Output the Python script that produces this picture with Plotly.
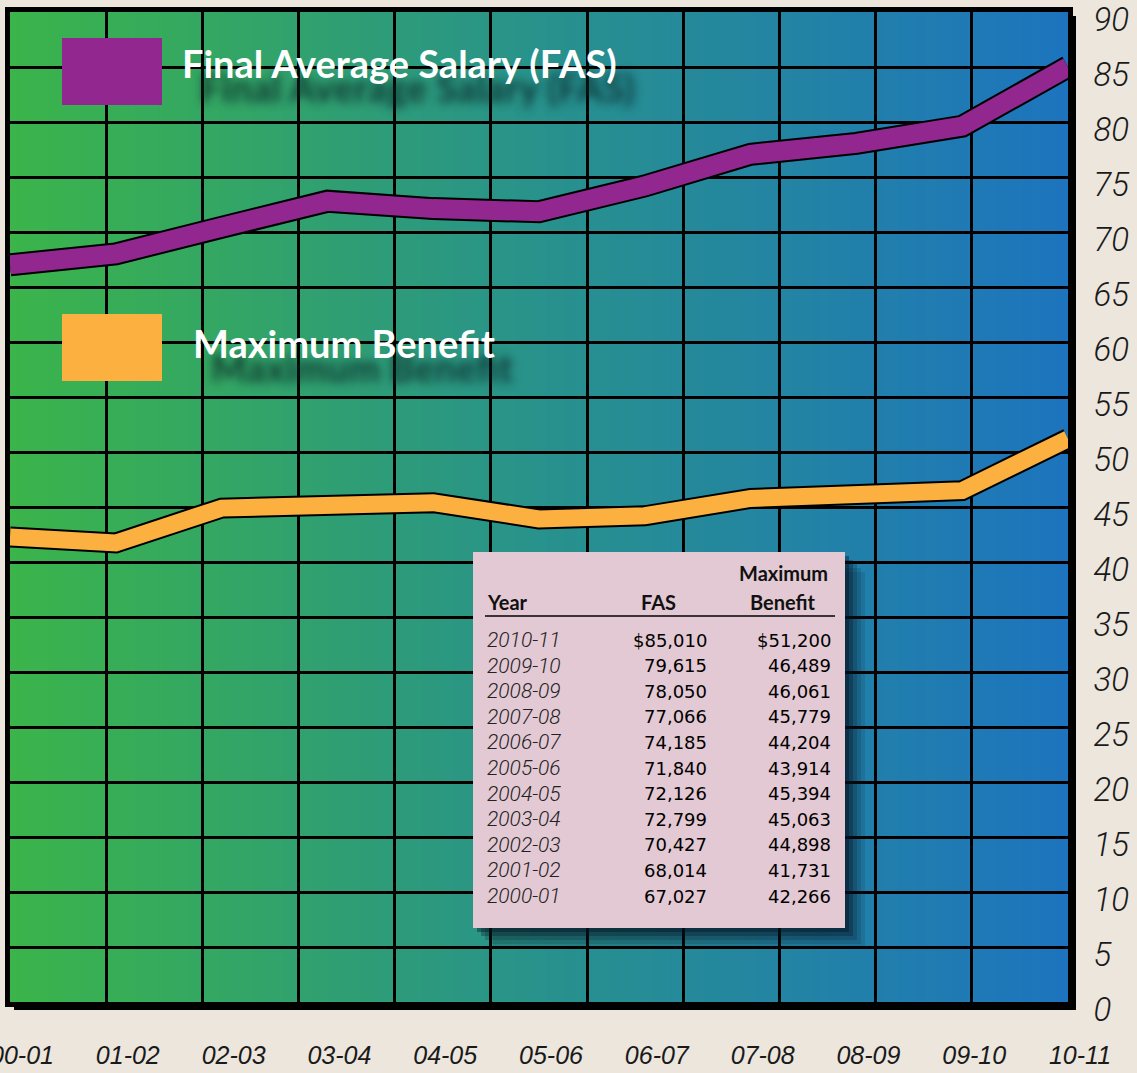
import base64
import struct
import zlib
import plotly.graph_objects as go

# values in thousands of dollars
years = ["00-01", "01-02", "02-03", "03-04", "04-05", "05-06",
         "06-07", "07-08", "08-09", "09-10", "10-11"]
fas = [67.027, 68.014, 70.427, 72.799, 72.126, 71.840,
       74.185, 77.066, 78.050, 79.615, 85.010]
max_benefit = [42.266, 41.731, 44.898, 45.063, 45.394, 43.914,
               44.204, 45.779, 46.061, 46.489, 51.200]

# inset table (newest first, as printed)
table_years = ["2010-11", "2009-10", "2008-09", "2007-08", "2006-07", "2005-06",
               "2004-05", "2003-04", "2002-03", "2001-02", "2000-01"]
table_fas = ["$85,010", "79,615", "78,050", "77,066", "74,185", "71,840",
             "72,126", "72,799", "70,427", "68,014", "67,027"]
table_benefit = ["$51,200", "46,489", "46,061", "45,779", "44,204", "43,914",
                 "45,394", "45,063", "44,898", "41,731", "42,266"]

W, H = 1137, 1073
L, R, T, B = 10, 69, 12, 71
PW, PH = W - L - R, H - T - B


def xp(px):
    return (px - L) / PW


def yp(py):
    return (H - B - py) / PH


def gradient_png(stops, width=512):
    # one-row horizontal gradient, encoded as a tiny png
    row = b"\x00"
    for i in range(width):
        t = i / (width - 1)
        for k in range(len(stops) - 1):
            t0, c0 = stops[k]
            t1, c1 = stops[k + 1]
            if t0 <= t <= t1:
                f = (t - t0) / (t1 - t0)
                row += bytes(int(round(c0[j] + (c1[j] - c0[j]) * f)) for j in range(3))
                break
    raw = row * 2

    def chunk(tag, data):
        c = struct.pack(">I", len(data)) + tag + data
        return c + struct.pack(">I", zlib.crc32(tag + data) & 0xffffffff)

    png = b"\x89PNG\r\n\x1a\n"
    png += chunk(b"IHDR", struct.pack(">IIBBBBB", width, 2, 8, 2, 0, 0, 0))
    png += chunk(b"IDAT", zlib.compress(raw))
    png += chunk(b"IEND", b"")
    return "data:image/png;base64," + base64.b64encode(png).decode()


bg = gradient_png([(0.0, (59, 180, 74)), (0.5, (40, 146, 140)), (1.0, (29, 116, 190))])

fig = go.Figure()
x = list(range(len(years)))

for vals, col, w in [(fas, "#92278F", 19), (max_benefit, "#FBB040", 17)]:
    fig.add_trace(go.Scatter(x=x, y=vals, mode="lines", hoverinfo="skip",
                             line=dict(color="black", width=w + 4), showlegend=False))
    fig.add_trace(go.Scatter(x=x, y=vals, mode="lines", name="",
                             line=dict(color=col, width=w), showlegend=False))

fig.add_layout_image(dict(source=bg, xref="paper", yref="paper", x=0, y=1,
                          sizex=1, sizey=1, sizing="stretch",
                          xanchor="left", yanchor="top", layer="below"))

light_italic = "Roboto, DejaVu Sans"
fig.update_xaxes(range=[0, 10], tickvals=x, ticktext=years,
                 showgrid=False, zeroline=False, automargin=False,
                 minor=dict(tick0=0, dtick=10 / 11, showgrid=True,
                            gridcolor="black", gridwidth=3),
                 showline=True, mirror=True, linecolor="black", linewidth=5,
                 ticks="", ticklabelshift=12, ticklabelstandoff=27,
                 ticklabeloverflow="allow",
                 tickfont=dict(family="Liberation Sans Narrow, Liberation Sans", size=25,
                               style="italic", color="#1a1a1a"))
fig.update_yaxes(range=[0, 90], dtick=5, side="right",
                 showgrid=True, gridcolor="black", gridwidth=3, zeroline=False,
                 automargin=False,
                 showline=True, mirror=True, linecolor="black", linewidth=5,
                 ticks="", ticklabelshift=7, ticklabelstandoff=14,
                 ticklabeloverflow="allow",
                 tickfont=dict(family=light_italic, size=33, weight=300,
                               style="italic", color="#1a1a1a"))

shapes = [
    # drop shadow of the frame
    dict(type="rect", xref="paper", yref="paper", x0=xp(1068), x1=xp(1076),
         y0=yp(1010), y1=yp(16), fillcolor="black", line_width=0),
    dict(type="rect", xref="paper", yref="paper", x0=xp(14), x1=xp(1076),
         y0=yp(1010), y1=yp(1002), fillcolor="black", line_width=0),
    # legend swatches
    dict(type="rect", xref="paper", yref="paper", x0=xp(62), x1=xp(162),
         y0=yp(105), y1=yp(38), fillcolor="#92278F", line_width=0),
    dict(type="rect", xref="paper", yref="paper", x0=xp(62), x1=xp(162),
         y0=yp(381), y1=yp(314), fillcolor="#FBB040", line_width=0),
]
# soft shadow under the table
for k, op in [(20, 0.12), (16, 0.15), (12, 0.2), (8, 0.3), (4, 0.4)]:
    shapes.append(dict(type="rect", xref="paper", yref="paper",
                       x0=xp(473 + k), x1=xp(845 + k), y0=yp(928 + k), y1=yp(552 + k),
                       fillcolor="rgba(5,20,35,%s)" % op, line_width=0))
shapes.append(dict(type="rect", xref="paper", yref="paper", x0=xp(473), x1=xp(845),
                   y0=yp(928), y1=yp(552), fillcolor="#E3C9D3", line_width=0))
shapes.append(dict(type="line", xref="paper", yref="paper", x0=xp(485), x1=xp(835),
                   y0=yp(616), y1=yp(616), line=dict(color="black", width=1.5)))
fig.update_layout(shapes=shapes)

shadow = "18px 24px 10px rgba(10,40,40,0.85)"
legend_font = dict(family="Lato", size=38, weight="bold", color="white", shadow=shadow)
fig.add_annotation(text="Final Average Salary (FAS)", xref="paper", yref="paper",
                   x=xp(180), y=yp(63), xanchor="left", yanchor="middle",
                   showarrow=False, font=legend_font)
fig.add_annotation(text="Maximum Benefit", xref="paper", yref="paper",
                   x=xp(191), y=yp(343), xanchor="left", yanchor="middle",
                   showarrow=False, font=legend_font)

head_font = dict(family="Lato", size=20, weight="bold", color="#111")
for txt, px, py, anchor in [("Maximum", 783, 573, "center"), ("Year", 485, 602, "left"),
                            ("FAS", 658, 602, "center"), ("Benefit", 783, 602, "center")]:
    fig.add_annotation(text=txt, xref="paper", yref="paper", x=xp(px), y=yp(py),
                       xanchor=anchor, yanchor="middle", showarrow=False, font=head_font)

year_font = dict(family=light_italic, size=21, weight=300, style="italic", color="#222")
num_font = dict(family="DejaVu Sans", size=18, color="#000")
for i in range(len(table_years)):
    py = 640 + i * 25.6
    fig.add_annotation(text=table_years[i], xref="paper", yref="paper", x=xp(485), y=yp(py),
                       xanchor="left", yanchor="middle", showarrow=False, font=year_font)
    fig.add_annotation(text=table_fas[i], xref="paper", yref="paper", x=xp(709), y=yp(py),
                       xanchor="right", yanchor="middle", showarrow=False, font=num_font)
    fig.add_annotation(text=table_benefit[i], xref="paper", yref="paper", x=xp(833), y=yp(py),
                       xanchor="right", yanchor="middle", showarrow=False, font=num_font)

fig.update_layout(width=W, height=H, margin=dict(l=L, r=R, t=T, b=B, autoexpand=False),
                  paper_bgcolor="#ECE6DD", plot_bgcolor="rgba(0,0,0,0)",
                  hovermode=False)

# the page's default 8px body margin would push the figure out of the window
fig.write_html("out.html", config={"displayModeBar": False},
               post_script="document.body.style.margin='0';")
